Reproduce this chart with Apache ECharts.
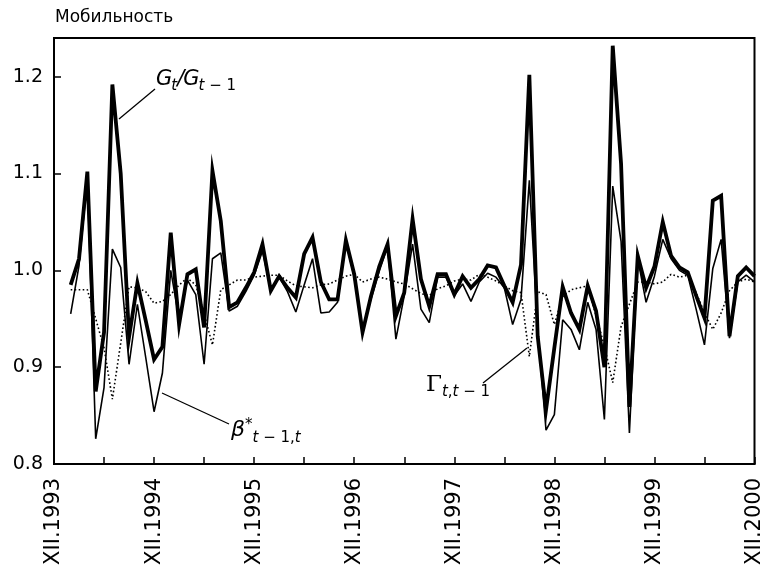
<!DOCTYPE html>
<html>
<head>
<meta charset="utf-8">
<script src="https://cdn.jsdelivr.net/npm/echarts@6/dist/echarts.min.js"></script>
<style>
html,body{margin:0;padding:0;background:#fff;}
#chart{width:765px;height:577px;}
</style>
</head>
<body>
<div id="chart"></div>
<script>
// Month offsets counted from XII.1993 (0) to XII.2000 (84)
const firstMonth = 2;
const tickLabels = ['XII.1993','XII.1994','XII.1995','XII.1996','XII.1997','XII.1998','XII.1999','XII.2000'];
const yTickValues = [0.8, 0.9, 1.0, 1.1, 1.2];

// G_t / G_{t-1}  (thick line)
const gRatio = [
  0.985,1.012,1.102,0.875,0.936,1.192,1.100,0.931,0.987,0.948,
  0.908,0.921,1.039,0.944,0.996,1.001,0.941,1.103,1.051,0.962,
  0.967,0.982,0.998,1.027,0.979,0.994,0.982,0.972,1.017,1.034,
  0.988,0.970,0.970,1.031,0.996,0.936,0.973,1.004,1.027,0.953,
  0.977,1.053,0.991,0.963,0.996,0.996,0.975,0.994,0.982,0.991,
  1.005,1.003,0.984,0.967,1.006,1.202,0.932,0.856,0.920,0.983,
  0.956,0.939,0.984,0.958,0.900,1.232,1.110,0.859,1.015,0.982,
  1.004,1.050,1.015,1.003,0.998,0.974,0.951,1.072,1.077,0.932,
  0.994,1.003,0.994
];
// beta*_{t-1,t}  (thin line)
const beta = [
  0.955,1.005,1.095,0.826,0.879,1.022,1.003,0.903,0.965,0.910,
  0.854,0.894,1.000,0.950,0.990,0.975,0.903,1.012,1.018,0.958,
  0.963,0.978,0.995,1.020,0.980,0.993,0.978,0.957,0.985,1.012,
  0.956,0.957,0.967,1.030,0.993,0.938,0.970,0.999,1.025,0.929,
  0.974,1.027,0.960,0.946,0.993,0.993,0.974,0.986,0.968,0.988,
  0.997,0.993,0.982,0.944,0.970,1.093,0.940,0.835,0.851,0.949,
  0.939,0.918,0.967,0.939,0.846,1.087,1.030,0.832,1.012,0.967,
  0.994,1.032,1.012,1.000,0.995,0.960,0.923,1.002,1.032,0.930,
  0.988,0.995,0.988
];
// Gamma_{t,t-1}  (dotted line)
const gamma = [
  0.980,0.980,0.980,0.950,0.920,0.867,0.925,0.983,0.982,0.978,
  0.966,0.968,0.975,0.985,0.992,0.985,0.955,0.923,0.980,0.985,
  0.990,0.990,0.993,0.994,0.995,0.995,0.989,0.984,0.983,0.982,
  0.985,0.986,0.990,0.994,0.996,0.988,0.991,0.993,0.991,0.988,
  0.986,0.981,0.976,0.974,0.981,0.984,0.989,0.991,0.990,0.996,
  0.993,0.989,0.984,0.979,0.977,0.911,0.978,0.975,0.944,0.973,
  0.980,0.982,0.984,0.953,0.922,0.884,0.942,0.965,0.988,0.988,
  0.986,0.988,0.996,0.993,0.995,0.977,0.956,0.939,0.956,0.979,
  0.988,0.991,0.988
];

function pairs(arr){ return arr.map((v,i)=>[firstMonth+i, v]); }

const FONT = 'DejaVu Sans';
const ctx = document.createElement('canvas').getContext('2d');
// lay out text pieces one after another: [text, size, italic, family, bottomY, extraGap]
function run(x, pieces){
  const out = [];
  pieces.forEach(p=>{
    const [txt, size, ital, fam, by, gap] = p;
    ctx.font = (ital ? 'italic ' : '') + size + 'px "' + fam + '"';
    out.push({type:'text', x:x, y:by, silent:true,
      style:{text:txt, fontSize:size, fontStyle:ital?'italic':'normal', fontFamily:fam,
             fill:'#000', textVerticalAlign:'bottom', verticalAlign:'alphabetic', textBaseline:'alphabetic', align:'left'}});
    x += ctx.measureText(txt).width + (gap||0);
  });
  return out;
}
const S = 'DejaVu Sans', SF = 'DejaVu Serif';

const labels = [].concat(
  run(156, [['G',21,1,S,90,-1],['t',15,1,S,94,0],['/',21,1,S,90,-1],['G',21,1,S,90,-1],['t',15,1,S,94,0],[' − 1',15,0,S,94,0]]),
  run(231, [['β',22,1,S,441,0],['*',15,0,S,433,0],['t',15,1,S,446,0],[' − 1,',15,0,S,446,0],['t',15,1,S,446,0]]),
  run(426, [['Γ',23,0,SF,397,0],['t',15,1,S,400,0],[',',15,0,S,400,0],['t',15,1,S,400,0],[' − 1',15,0,S,400,0]])
);

const chart = echarts.init(document.getElementById('chart'), null, {renderer:'canvas'});

const option = {
  animation:false,
  backgroundColor:'#fff',
  title:{
    text:'Мобильность', left:55, top:9, padding:0,
    textStyle:{fontFamily:FONT, fontSize:17, fontWeight:'normal', color:'#000'}
  },
  grid:{left:54, right:9, top:38, bottom:113, show:true, borderColor:'#000', borderWidth:2, backgroundColor:'transparent'},
  xAxis:{
    type:'value', min:0, max:84, interval:6,
    axisLine:{show:true, lineStyle:{color:'#000', width:2}},
    axisTick:{show:true, inside:true, length:7, lineStyle:{color:'#000', width:1.5}},
    splitLine:{show:false},
    axisLabel:{
      rotate:90, margin:14, color:'#000', fontFamily:FONT, fontSize:21,
      showMinLabel:true, showMaxLabel:true,
      formatter:function(v){ return (v % 12 === 0) ? tickLabels[v/12] : ''; }
    }
  },
  yAxis:{
    type:'value', min:0.8, max:1.24, interval:0.1,
    axisLine:{show:true, lineStyle:{color:'#000', width:2}},
    axisTick:{show:true, inside:true, length:7, lineStyle:{color:'#000', width:1.5}},
    splitLine:{show:false},
    axisLabel:{
      margin:11, color:'#000', fontFamily:FONT, fontSize:19,
      formatter:function(v){
        const t = yTickValues.find(x=>Math.abs(x-v)<1e-6);
        return t===undefined ? '' : t.toFixed(1);
      }
    }
  },
  series:[
    {type:'line', data:pairs(gamma), symbol:'none', z:2,
     lineStyle:{color:'#000', width:1.6, type:[1.6,2.4]}},
    {type:'line', data:pairs(beta), symbol:'none', z:3,
     lineStyle:{color:'#000', width:1.6}},
    {type:'line', data:pairs(gRatio), symbol:'none', z:4,
     lineStyle:{color:'#000', width:3.8, join:'miter'}}
  ],
  graphic:[
    {type:'line', shape:{x1:119,y1:119,x2:155,y2:89}, style:{stroke:'#000', lineWidth:1.3}},
    {type:'line', shape:{x1:162,y1:393,x2:229,y2:424}, style:{stroke:'#000', lineWidth:1.3}},
    {type:'line', shape:{x1:483,y1:383,x2:527,y2:348}, style:{stroke:'#000', lineWidth:1.3}}
  ].concat(labels)
};
chart.setOption(option);
</script>
</body>
</html>
